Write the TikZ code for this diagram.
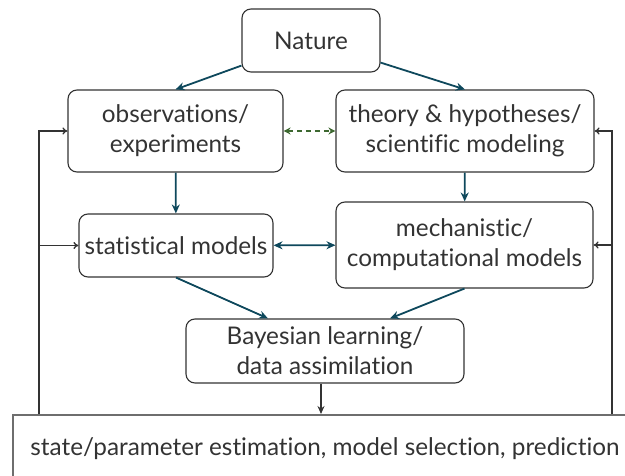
\documentclass[tikz,border=0pt]{standalone}
\usepackage{fontspec}
\setmainfont{Lato}[Ligatures=NoCommon]
\usepackage{tikz}
\usetikzlibrary{arrows.meta}

\definecolor{linkteal}{RGB}{14,72,92}
\definecolor{linkgreen}{RGB}{61,104,48}
\definecolor{boxgray}{RGB}{51,51,51}
\definecolor{resultgray}{RGB}{110,110,110}

\begin{document}
\begin{tikzpicture}[x=1pt,y=-1pt,
    box/.style={draw=boxgray, line width=1.1pt, rounded corners=9pt, align=center,
        inner sep=0pt, text=boxgray, font=\fontsize{24.3}{30}\selectfont},
    link/.style={draw=linkteal, line width=1.8pt, -{Stealth[length=9pt,width=8pt]}},
    twolink/.style={link, {Stealth[length=9pt,width=8pt]}-{Stealth[length=9pt,width=8pt]}},
    guess/.style={draw=linkgreen, line width=1.8pt, dash pattern=on 5pt off 4pt,
        {Stealth[length=7pt,width=7pt]}-{Stealth[length=7pt,width=7pt]}},
    feedback/.style={draw=boxgray, line width=1.3pt, -{To[length=5pt,width=7pt]}}
]
    \useasboundingbox (0,0) rectangle (625,476);
    \clip (0,0) rectangle (625,476);

    % boxes
    \node[box, minimum width=138pt, minimum height=63pt] (nature) at (311,40.5) {Nature};
    \node[box, minimum width=215pt, minimum height=82pt] (obs) at (175.5,131) {observations/\\experiments};
    \node[box, minimum width=258pt, minimum height=82pt] (theory) at (465,131) {theory \& hypotheses/\\scientific modeling};
    \node[box, minimum width=194pt, minimum height=63pt] (stat) at (176,245.5) {statistical models};
    \node[box, minimum width=257pt, minimum height=86pt] (mech) at (464.5,245) {mechanistic/\\computational models};
    \node[box, minimum width=278pt, minimum height=64pt] (bayes) at (325,351) {Bayesian learning/\\data assimilation};
    \node[box, rounded corners=0pt, draw=resultgray, line width=2pt,
        minimum width=624pt, minimum height=68pt] (result) at (325,449)
        {state/parameter estimation, model selection, prediction};

    % feedback rails
    \coordinate (railL) at (39,0);
    \coordinate (railR) at (612,0);

    \draw[link] (nature) -- (obs.north);
    \draw[link] (nature) -- (theory.north);
    \draw[guess] (obs) -- (theory); % observation <-> theory
    \draw[link] (obs) -- (stat);
    \draw[link] (theory) -- (mech);
    \draw[twolink] (stat) -- (mech);
    \draw[link] (stat.south) -- ([xshift=-57pt]bayes.north);
    \draw[link] (mech.south) -- ([xshift=65pt]bayes.north);
    \draw[feedback, -{Stealth[length=8pt,width=7pt]}] ([xshift=-4pt]bayes.south) -- ([xshift=-4pt]bayes.south |- result.north);

    % loops back from the results
    \draw[feedback] (railL |- result.north) |- (obs.west);
    \draw[feedback] (railL |- stat.west) -- (stat.west);
    \draw[feedback] (railR |- result.north) |- (theory.east);
    \draw[feedback] (railR |- mech.east) -- (mech.east);
\end{tikzpicture}
\end{document}
